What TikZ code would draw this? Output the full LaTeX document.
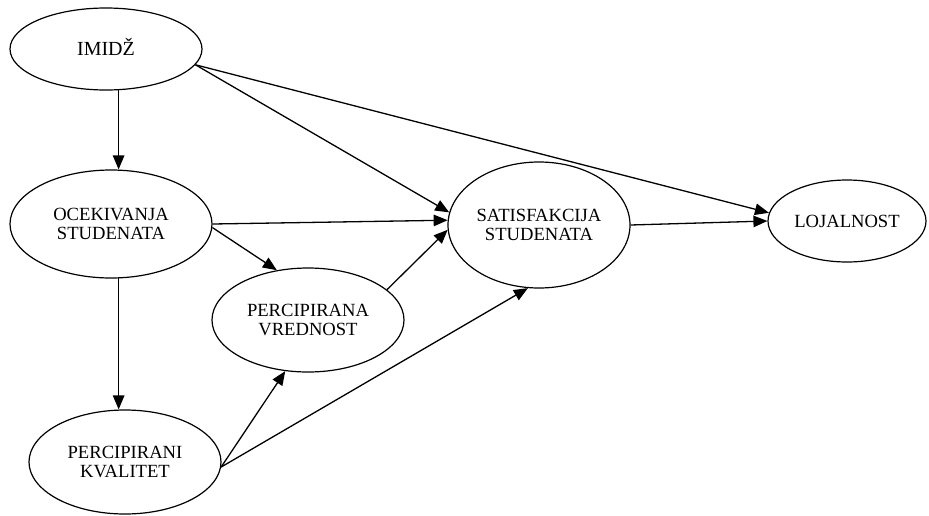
\documentclass[tikz,border=0pt]{standalone}
\usepackage{fontspec}
\setmainfont{Liberation Serif}
\usetikzlibrary{shapes.geometric,arrows.meta}
\begin{document}
\begin{tikzpicture}[x=1pt,y=-1pt,
  var/.style={ellipse,draw,line width=1.2pt,inner sep=0pt,align=center,
              font=\fontsize{18.6pt}{19pt}\selectfont},
  link/.style={line width=1.3pt,-{Triangle[length=14pt,width=11.5pt]}}]
\useasboundingbox (0,0) rectangle (929,515);

% constructs
\node[var,minimum width=192pt,minimum height=82pt,font=\fontsize{20pt}{20pt}\selectfont]
      (imidz) at (106,49)  {\raisebox{5pt}{IMIDŽ}};
\node[var,minimum width=202pt,minimum height=108pt] (ocek)  at (111,224) {OCEKIVANJA\\STUDENATA};
\node[var,minimum width=192pt,minimum height=104pt] (pv)    at (308,320) {PERCIPIRANA\\VREDNOST};
\node[var,minimum width=182pt,minimum height=126pt] (sat)   at (539,225) {SATISFAKCIJA\\STUDENATA};
\node[var,minimum width=158pt,minimum height=82pt]  (loj)   at (847,221) {LOJALNOST};
\node[var,minimum width=192pt,minimum height=104pt] (pk)    at (125,462) {PERCIPIRANI\\KVALITET};

% paths between constructs
\draw[link] (imidz.-73.6) -- (imidz.-73.6 |- ocek.north);
\draw[link] (ocek.-82.6) -- (ocek.-82.6 |- pk.north);
\draw[link] (imidz.-10) -- (sat.172);
\draw[link] (imidz.-10) -- (loj.174);
\draw[link] (ocek.0) -- (sat.177);
\draw[link] (ocek.-2) -- (pv.122);
\draw[link] (pv.21) -- (sat.183);
\draw[link] (pk.-3) -- (pv.246);
\draw[link] (pk.-3) -- (sat.260);
\draw[link] (sat.0) -- (loj.180);
\end{tikzpicture}
\end{document}
